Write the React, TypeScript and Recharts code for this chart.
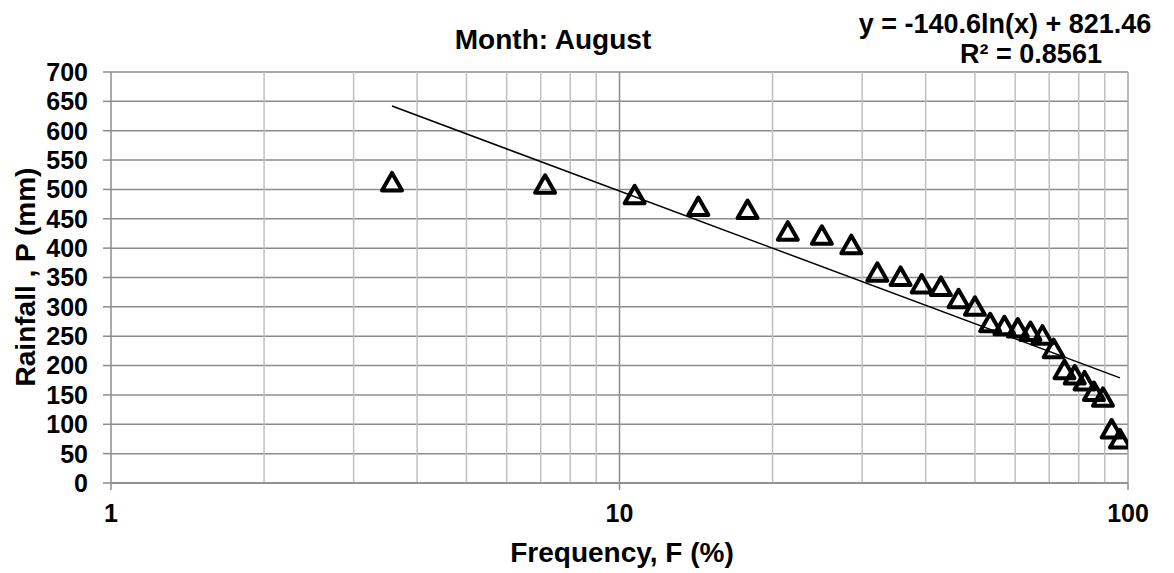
import { ScatterChart, Scatter, XAxis, YAxis, CartesianGrid, ReferenceLine } from "recharts";

// Weibull plotting position F (%) and August rainfall P (mm)
const frequency = [
  3.57, 7.14, 10.71, 14.29, 17.86, 21.43, 25.0, 28.57, 32.14, 35.71, 39.29, 42.86, 46.43, 50.0,
  53.57, 57.14, 60.71, 64.29, 67.86, 71.43, 75.0, 78.57, 82.14, 85.71, 89.29, 92.86, 96.43,
];
const rainfall = [
  512, 508, 490, 470, 465, 428, 421, 405, 358, 351, 338, 334, 313, 300, 272, 267, 263, 257, 251,
  228, 192, 183, 173, 155, 145, 91, 74,
];

// log trendline end points (straight on a log axis)
const trendFreq = [3.57, 96.43];
const trendRain = [642, 179];

const xTicks = [1, 10, 100];
const minorX = [2, 3, 4, 5, 6, 7, 8, 9, 20, 30, 40, 50, 60, 70, 80, 90];
const yTicks = [0, 50, 100, 150, 200, 250, 300, 350, 400, 450, 500, 550, 600, 650, 700];

const points = frequency.map((f, i) => ({ f, p: rainfall[i] }));
const trend = trendFreq.map((f, i) => ({ f, p: trendRain[i] }));

const FONT = "Arial, 'Liberation Sans', sans-serif";
const tickStyle = { fontSize: 25, fontWeight: 700, fill: "#000", fontFamily: FONT };

function Triangle(props: any) {
  const { cx, cy } = props;
  if (cx == null || cy == null) return null;
  return (
    <path
      d={`M${cx},${cy - 9.5} L${cx + 10},${cy + 8} L${cx - 10},${cy + 8} Z`}
      fill="none"
      stroke="#000"
      strokeWidth={4}
      strokeLinejoin="round"
    />
  );
}

const textBase: React.CSSProperties = {
  position: "absolute",
  fontFamily: FONT,
  fontWeight: 700,
  color: "#000",
  whiteSpace: "nowrap",
  lineHeight: 1,
  transform: "translate(-50%, -50%)",
};

export default function App() {
  return (
    <div style={{ position: "relative", width: 1174, height: 573, background: "#fff" }}>
      <style>{"body{margin:0}"}</style>
      <ScatterChart width={1174} height={573} margin={{ top: 72, right: 46, bottom: 0, left: 0 }}>
        <CartesianGrid vertical={false} stroke="#8c8c8c" strokeWidth={1.5} />
        {minorX.map((v) => (
          <ReferenceLine key={v} x={v} stroke="#c0c0c0" strokeWidth={1.5} />
        ))}
        <ReferenceLine x={10} stroke="#8c8c8c" strokeWidth={1.5} />
        <ReferenceLine x={100} stroke="#a6a6a6" strokeWidth={1.5} />
        <XAxis
          type="number"
          dataKey="f"
          scale="log"
          domain={[1, 100]}
          ticks={xTicks}
          allowDataOverflow
          height={90}
          tickSize={7}
          tickMargin={14}
          tick={tickStyle}
          axisLine={{ stroke: "#8c8c8c", strokeWidth: 1.5 }}
          tickLine={{ stroke: "#8c8c8c", strokeWidth: 1.5 }}
        />
        <YAxis
          type="number"
          dataKey="p"
          domain={[0, 700]}
          ticks={yTicks}
          interval={0}
          width={111}
          tickSize={8}
          tickMargin={15}
          tick={tickStyle}
          axisLine={{ stroke: "#8c8c8c", strokeWidth: 1.5 }}
          tickLine={{ stroke: "#8c8c8c", strokeWidth: 1.5 }}
        />
        <Scatter data={points} shape={<Triangle />} isAnimationActive={false} />
        <Scatter
          data={trend}
          line={{ stroke: "#000", strokeWidth: 1.5 }}
          shape={() => <g />}
          isAnimationActive={false}
        />
      </ScatterChart>

      <div style={{ ...textBase, left: 553, top: 40, fontSize: 28 }}>Month: August</div>
      <div style={{ ...textBase, left: 1005, top: 24, fontSize: 27 }}>y = -140.6ln(x) + 821.46</div>
      <div style={{ ...textBase, left: 1031, top: 54, fontSize: 27 }}>R² = 0.8561</div>
      <div style={{ ...textBase, left: 622, top: 553, fontSize: 28 }}>Frequency, F (%)</div>
      <div style={{ ...textBase, left: 26, top: 277, fontSize: 28, transform: "translate(-50%, -50%) rotate(-90deg)" }}>
        Rainfall , P (mm)
      </div>
    </div>
  );
}
